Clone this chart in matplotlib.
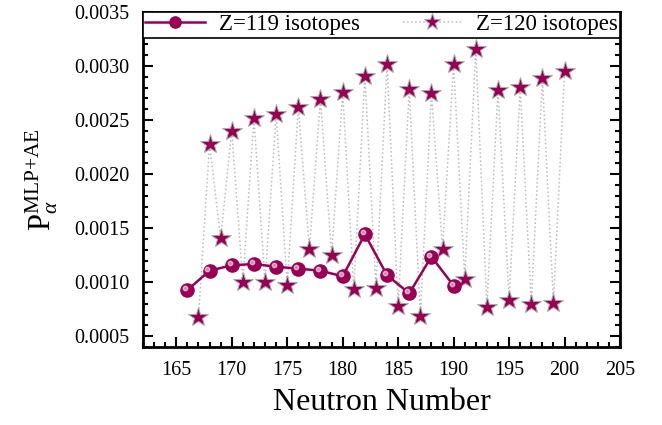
import numpy as np
import matplotlib
matplotlib.use("Agg")
import matplotlib.pyplot as plt
from matplotlib.ticker import MultipleLocator, FormatStrFormatter
from matplotlib.transforms import offset_copy

# --- data ---
n_119 = [166, 168, 170, 172, 174, 176, 178, 180, 182, 184, 186, 188, 190]
p_119 = [0.000927, 0.001106, 0.001156, 0.001168, 0.001143, 0.001125, 0.001106,
         0.001054, 0.001443, 0.001064, 0.000897, 0.001236, 0.000967]

n_120 = list(range(167, 201))
p_120 = [0.000680, 0.002276, 0.001406, 0.002402, 0.001004, 0.002516, 0.000999,
         0.002556, 0.000974, 0.002624, 0.001310, 0.002695, 0.001251, 0.002760,
         0.000937, 0.002911, 0.000943, 0.003023, 0.000777, 0.002785, 0.000687,
         0.002748, 0.001304, 0.003019, 0.001032, 0.003155, 0.000767, 0.002778,
         0.000835, 0.002803, 0.000798, 0.002886, 0.000810, 0.002957]

lab_119 = "Z=119 isotopes"
lab_120 = "Z=120 isotopes"

plt.rcParams['font.family'] = ['Liberation Serif', 'DejaVu Serif']
plt.rcParams['mathtext.fontset'] = 'custom'
plt.rcParams['mathtext.rm'] = 'Liberation Serif'
plt.rcParams['mathtext.it'] = 'Liberation Serif:italic'

col = '#990055'

fig = plt.figure(figsize=(6.62, 4.25), dpi=100)
ax = fig.add_axes([0.216, 0.1835, 0.7206, 0.7883])

ax.plot(n_120, p_120, ls=':', lw=1.1, color='#bbbbbb', marker='*', ms=14.5,
        mfc=col, mec='#aaaaaa', mew=0.7, label=lab_120, zorder=2)
ax.plot(n_119, p_119, ls='-', lw=1.8, color=col, marker='o', ms=9.5,
        mfc=col, mec=col, label=lab_119, zorder=3)
# little highlight so the balls look shaded
hl = offset_copy(ax.transData, fig=fig, x=-1.5, y=1.5, units='points')
ax.plot(n_119, p_119, ls='none', marker='o', ms=3.2, color='white', alpha=0.55,
        transform=hl, zorder=4)

ax.set_xlim(162, 205)
ax.set_ylim(0.0004, 0.0035)
ax.xaxis.set_major_locator(MultipleLocator(5))
ax.xaxis.set_minor_locator(MultipleLocator(1))
ax.yaxis.set_major_locator(MultipleLocator(0.0005))
ax.yaxis.set_minor_locator(MultipleLocator(0.0001))
ax.yaxis.set_major_formatter(FormatStrFormatter('%.4f'))

ax.tick_params(which='both', direction='in', top=True, right=True, width=1.5,
               labelsize=14.5, colors='black')
ax.tick_params(which='major', length=7, pad=10)
ax.tick_params(which='minor', length=3.5)
for s in ax.spines.values():
    s.set_linewidth(2)

ax.set_xlabel('Neutron Number', fontsize=23, labelpad=6)
ax.set_ylabel(r'$\mathrm{P}_{\alpha}^{\mathrm{MLP{+}AE}}$', fontsize=22, labelpad=10)

h, l = ax.get_legend_handles_labels()
leg = ax.legend(h[::-1], l[::-1], loc='upper center', bbox_to_anchor=(0, 0, 1, 1),
                mode='expand', ncol=2, borderaxespad=0, fontsize=16.5,
                frameon=True, fancybox=False, framealpha=1, edgecolor='black',
                handlelength=2.6, borderpad=0.1, handletextpad=0.6,
                markerscale=0.85)
leg.get_frame().set_linewidth(1.2)

fig.savefig('out.png', dpi=100)
